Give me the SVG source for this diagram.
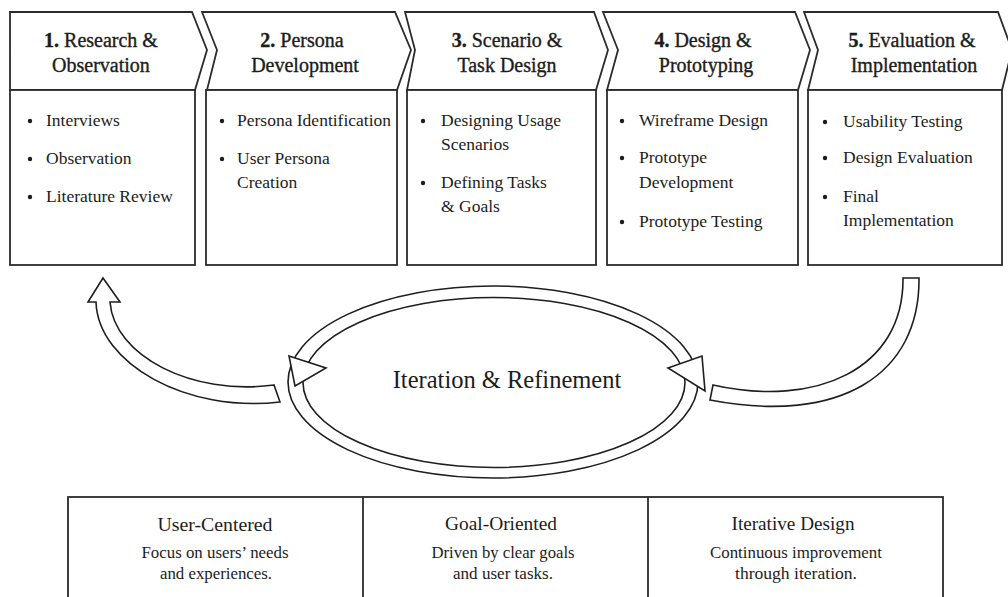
<svg xmlns="http://www.w3.org/2000/svg" width="1008" height="597" viewBox="0 0 1008 597">
  <style>
    .frame { fill: #ffffff; stroke: #2b2b2b; stroke-width: 1.8; stroke-linejoin: miter; }
    .line { fill: none; stroke: #2b2b2b; stroke-width: 1.8; }
    .ring { fill: none; stroke: #1e1e1e; stroke-width: 1.6; }
    .flow { fill: #ffffff; stroke: #1e1e1e; stroke-width: 1.6; stroke-linejoin: miter; }
    text { font-family: "Liberation Serif", "Times New Roman", serif; fill: #1c1c1c; }
    .hd { font-size: 20px; text-anchor: middle; stroke: #1c1c1c; stroke-width: 0.35; }
    .hd tspan.num { font-weight: bold; }
    .it { font-size: 17.5px; }
    .dot { fill: #1c1c1c; }
    .ttl { font-size: 19.5px; text-anchor: middle; }
    .dsc { font-size: 17.5px; text-anchor: middle; }
    .mid { font-size: 24.5px; text-anchor: middle; }
  </style>

  <rect x="0" y="0" width="1008" height="597" fill="#ffffff"/>

  <!-- Stage 1 -->
  <g id="stage-research">
    <polygon class="frame" points="10,12 192,12 207,50 195,90 10,90"/>
    <rect class="frame" x="10" y="90" width="185" height="175"/>
    <text class="hd" x="101" y="47"><tspan class="num">1.</tspan> Research &amp;</text>
    <text class="hd" x="101" y="72">Observation</text>
    <circle class="dot" cx="30" cy="121" r="2.2"/>
    <text class="it" x="46" y="126">Interviews</text>
    <circle class="dot" cx="30" cy="159" r="2.2"/>
    <text class="it" x="46" y="164">Observation</text>
    <circle class="dot" cx="30" cy="197" r="2.2"/>
    <text class="it" x="46" y="202">Literature Review</text>
  </g>

  <!-- Stage 2 -->
  <g id="stage-persona">
    <polygon class="frame" points="202,12 395,12 411,50 397,90 207,90 217,50"/>
    <rect class="frame" x="206" y="90" width="191" height="175"/>
    <text class="hd" x="302" y="47"><tspan class="num">2.</tspan> Persona</text>
    <text class="hd" x="305" y="72">Development</text>
    <circle class="dot" cx="222" cy="121" r="2.2"/>
    <text class="it" x="237" y="126">Persona Identification</text>
    <circle class="dot" cx="222" cy="159" r="2.2"/>
    <text class="it" x="237" y="164">User Persona</text>
    <text class="it" x="237" y="188">Creation</text>
  </g>

  <!-- Stage 3 -->
  <g id="stage-scenario">
    <polygon class="frame" points="405,12 594,12 608,50 596,90 407,90 415,50"/>
    <rect class="frame" x="407" y="90" width="189" height="175"/>
    <text class="hd" x="507" y="47"><tspan class="num">3.</tspan> Scenario &amp;</text>
    <text class="hd" x="507" y="72">Task Design</text>
    <circle class="dot" cx="423" cy="121" r="2.2"/>
    <text class="it" x="441" y="126">Designing Usage</text>
    <text class="it" x="441" y="150">Scenarios</text>
    <circle class="dot" cx="423" cy="183" r="2.2"/>
    <text class="it" x="441" y="188">Defining Tasks</text>
    <text class="it" x="441" y="212">&amp; Goals</text>
  </g>

  <!-- Stage 4 -->
  <g id="stage-prototype">
    <polygon class="frame" points="603,12 795,12 810,50 798,90 607,90 618,50"/>
    <rect class="frame" x="607" y="90" width="191" height="175"/>
    <text class="hd" x="703" y="47"><tspan class="num">4.</tspan> Design &amp;</text>
    <text class="hd" x="706" y="72">Prototyping</text>
    <circle class="dot" cx="622" cy="121" r="2.2"/>
    <text class="it" x="639" y="126">Wireframe Design</text>
    <circle class="dot" cx="622" cy="158" r="2.2"/>
    <text class="it" x="639" y="163">Prototype</text>
    <text class="it" x="639" y="188">Development</text>
    <circle class="dot" cx="622" cy="222" r="2.2"/>
    <text class="it" x="639" y="227">Prototype Testing</text>
  </g>

  <!-- Stage 5 -->
  <g id="stage-evaluation">
    <polygon class="frame" points="804,12 998,12 1012,50 1002,90 808,90 818,50"/>
    <rect class="frame" x="808" y="90" width="194" height="175"/>
    <text class="hd" x="912" y="47"><tspan class="num">5.</tspan> Evaluation &amp;</text>
    <text class="hd" x="914" y="72">Implementation</text>
    <circle class="dot" cx="825" cy="122" r="2.2"/>
    <text class="it" x="843" y="127">Usability Testing</text>
    <circle class="dot" cx="825" cy="158" r="2.2"/>
    <text class="it" x="843" y="163">Design Evaluation</text>
    <circle class="dot" cx="825" cy="197" r="2.2"/>
    <text class="it" x="843" y="202">Final</text>
    <text class="it" x="843" y="226">Implementation</text>
  </g>

  <!-- Iteration loop -->
  <g id="iteration-loop">
    <ellipse class="ring" cx="493" cy="382" rx="205" ry="96"/>
    <ellipse class="ring" cx="494" cy="382.5" rx="191" ry="85"/>
    <polygon class="flow" points="289,356 326,368 295,386"/>
    <polygon class="flow" points="668,368 702,356 705,391"/>
    <text class="mid" x="507" y="388">Iteration &amp; Refinement</text>
  </g>

  <!-- Feedback arrows -->
  <g id="connectors">
    <path class="flow" d="M96,302 C98,364 187,413 280,402 L274,385 C192,396 114,356 110,302 L120,302 L103,278 L88,302 Z"/>
    <path class="flow" d="M903,278 L919,278 C920,375 840,425 710,400 L713,385 C815,408 904,370 903,278 Z"/>
  </g>

  <!-- Principles -->
  <g id="principles">
    <rect class="frame" x="68" y="497" width="875" height="130"/>
    <line class="line" x1="363" y1="497" x2="363" y2="600"/>
    <line class="line" x1="648" y1="497" x2="648" y2="600"/>
  </g>
  <g id="principle-user">
    <text class="ttl" x="215" y="531" textLength="115" lengthAdjust="spacingAndGlyphs">User-Centered</text>
    <text class="dsc" x="215" y="558" textLength="147" lengthAdjust="spacingAndGlyphs">Focus on users’ needs</text>
    <text class="dsc" x="216" y="579" textLength="112" lengthAdjust="spacingAndGlyphs">and experiences.</text>
  </g>
  <g id="principle-goal">
    <text class="ttl" x="501" y="530" textLength="112" lengthAdjust="spacingAndGlyphs">Goal-Oriented</text>
    <text class="dsc" x="503" y="558" textLength="143" lengthAdjust="spacingAndGlyphs">Driven by clear goals</text>
    <text class="dsc" x="503" y="579" textLength="100" lengthAdjust="spacingAndGlyphs">and user tasks.</text>
  </g>
  <g id="principle-iterative">
    <text class="ttl" x="793" y="530" textLength="123" lengthAdjust="spacingAndGlyphs">Iterative Design</text>
    <text class="dsc" x="796" y="558" textLength="172" lengthAdjust="spacingAndGlyphs">Continuous improvement</text>
    <text class="dsc" x="796" y="579" textLength="122" lengthAdjust="spacingAndGlyphs">through iteration.</text>
  </g>
</svg>
